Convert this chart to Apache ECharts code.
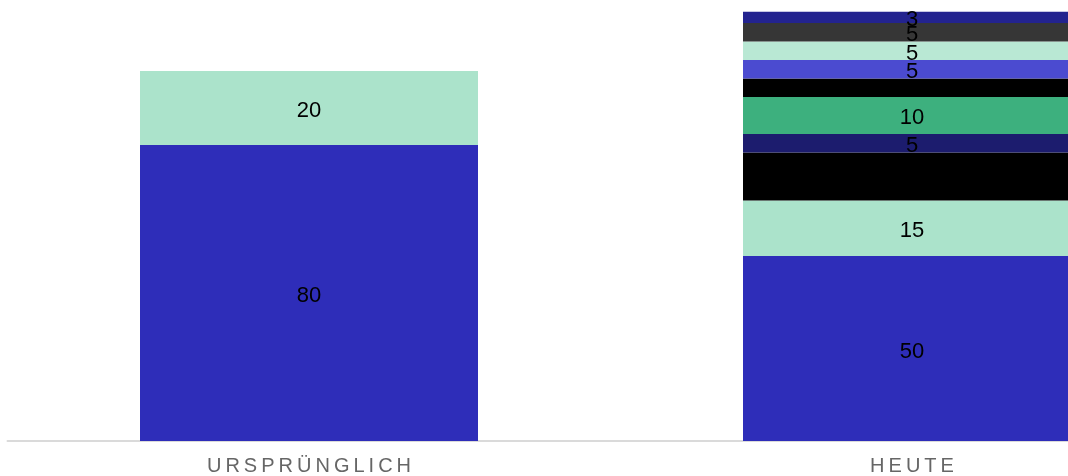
<!DOCTYPE html>
<html>
<head>
<meta charset="utf-8">
<script src="https://cdn.jsdelivr.net/npm/echarts@6/dist/echarts.min.js"></script>
<style>
html,body{margin:0;padding:0;background:#fff;}
#chart{width:1068px;height:476px;}
</style>
</head>
<body>
<div id="chart"></div>
<script>
const categories = ['URSPRÜNGLICH', 'HEUTE'];
const s1 = [80, 50];
const s2 = [20, 15];
const s3 = [null, 13];
const s4 = [null, 5];
const s5 = [null, 10];
const s6 = [null, 5];
const s7 = [null, 5];
const s8 = [null, 5];
const s9 = [null, 5];
const s10 = [null, 3];
const seriesData = [s1, s2, s3, s4, s5, s6, s7, s8, s9, s10];
const colors = ['#2E2DB9', '#ABE3CB', '#000000', '#1C1C6E', '#3DB07E', '#000000', '#4B4BD0', '#B9E8D4', '#363636', '#23238F'];

const chart = echarts.init(document.getElementById('chart'));
chart.setOption({
  animation: false,
  grid: { left: 7.5, top: 11.8, bottom: 35, width: 1206, containLabel: false, outerBoundsMode: 'none' },
  xAxis: {
    type: 'category',
    data: categories,
    axisTick: { show: false },
    axisLine: { show: true, lineStyle: { color: '#dadada', width: 2 } },
    axisLabel: {
      color: '#666666',
      fontSize: 20,
      fontFamily: 'Liberation Sans, Arial, sans-serif',
      margin: 15,
      formatter: v => v.split('').join('\u2009')
    }
  },
  yAxis: { type: 'value', min: 0, max: 116, show: false, splitLine: { show: false } },
  series: seriesData.map((d, i) => ({
    type: 'bar',
    stack: 'total',
    data: d,
    barWidth: 338,
    itemStyle: { color: colors[i] },
    label: {
      show: true,
      position: 'inside',
      offset: [0, 3],
      color: '#000',
      fontSize: 22,
      fontFamily: 'Liberation Sans, Arial, sans-serif'
    }
  }))
});
</script>
</body>
</html>
